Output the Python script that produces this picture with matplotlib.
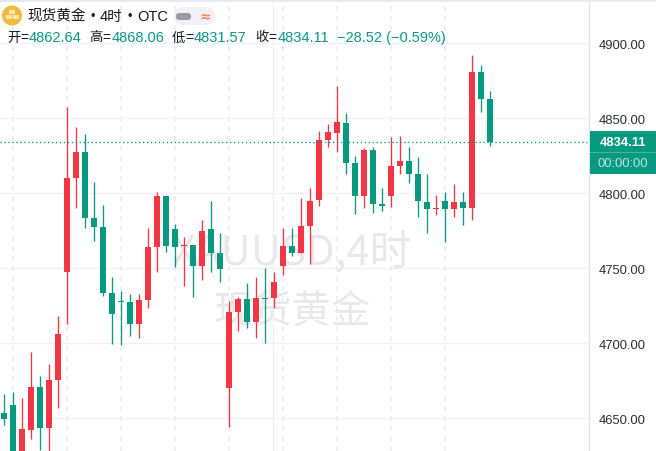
import matplotlib
matplotlib.use("Agg")
import matplotlib.pyplot as plt
from matplotlib.patches import Circle, FancyBboxPatch, Rectangle
from matplotlib.transforms import ScaledTranslation

opens = [4653.3, 4658.6, 4621.3, 4642.0, 4670.6, 4643.3, 4675.3, 4747.3, 4810.0, 4827.3, 4783.3,
         4777.3, 4733.3, 4728.0, 4727.3, 4712.6, 4728.6, 4764.0, 4798.0, 4776.0, 4764.6,
         4765.3, 4751.3, 4776.0, 4760.0, 4670.0, 4720.6, 4729.3, 4714.0, 4730.0, 4730.0,
         4751.3, 4764.6, 4760.0, 4778.0, 4795.3, 4835.3, 4840.0, 4846.6, 4820.0, 4798.0,
         4828.6, 4792.6, 4798.0, 4818.0, 4821.3, 4812.6, 4794.0, 4789.3, 4794.6, 4789.3,
         4794.0, 4790.0, 4880.6, 4862.64]
highs = [4666.0, 4667.3, 4663.3, 4694.0, 4678.0, 4686.0, 4718.0, 4857.3, 4844.0, 4839.3, 4807.3,
         4792.0, 4744.0, 4734.6, 4732.6, 4732.6, 4776.6, 4800.6, 4798.0, 4779.3, 4770.6,
         4765.3, 4782.0, 4794.6, 4773.3, 4728.0, 4730.6, 4740.0, 4744.0, 4750.0, 4747.3,
         4776.6, 4776.6, 4796.6, 4803.3, 4841.3, 4846.0, 4871.3, 4853.3, 4824.6, 4830.0,
         4830.6, 4803.3, 4837.3, 4838.0, 4830.6, 4824.0, 4812.6, 4798.6, 4800.6, 4806.0,
         4800.6, 4892.0, 4885.3, 4868.06]
lows = [4645.3, 4619.3, 4616.0, 4636.0, 4628.6, 4624.0, 4656.6, 4712.6, 4790.0, 4776.6, 4768.0,
        4731.3, 4699.3, 4698.6, 4704.6, 4703.3, 4723.3, 4747.3, 4760.6, 4750.6, 4738.0,
        4730.6, 4742.0, 4747.3, 4740.6, 4644.0, 4708.0, 4710.0, 4703.3, 4700.0, 4723.3,
        4745.3, 4758.0, 4760.0, 4752.6, 4791.3, 4830.6, 4827.3, 4812.6, 4786.0, 4790.0,
        4786.6, 4788.0, 4790.6, 4812.6, 4806.6, 4784.0, 4773.3, 4785.3, 4767.3, 4784.0,
        4778.6, 4782.0, 4854.0, 4831.57]
closes = [4649.3, 4624.0, 4642.6, 4670.6, 4643.3, 4675.3, 4706.0, 4810.0, 4827.3, 4783.3, 4777.3,
          4733.3, 4719.3, 4727.3, 4712.6, 4728.6, 4764.0, 4798.0, 4764.6, 4764.0, 4765.3,
          4751.3, 4774.6, 4760.0, 4749.3, 4720.6, 4729.3, 4714.0, 4730.0, 4729.3, 4740.6,
          4764.6, 4760.0, 4778.0, 4794.6, 4835.3, 4840.6, 4847.3, 4820.0, 4798.0, 4828.6,
          4792.6, 4791.3, 4818.0, 4821.3, 4812.6, 4794.6, 4789.3, 4790.0, 4789.3, 4794.0,
          4790.0, 4880.6, 4862.64, 4834.11]
price_ticks = [4650, 4700, 4750, 4800, 4850, 4900]
session_marks = [1, 7, 13, 19, 25, 31, 37, 43, 49]

RED, GREEN = "#F23645", "#089981"
GRID = "#F1F1F6"
CJK = ["Noto Sans CJK SC", "Liberation Sans", "DejaVu Sans"]
LATIN = ["Liberation Sans", "Noto Sans CJK SC"]
plt.rcParams["font.family"] = CJK

W, H = 656, 452
fig = plt.figure(figsize=(W / 100, H / 100), dpi=100, facecolor="white")
ax = fig.add_axes([0, 0, 589 / W, 1])
ax.set_xlim(-4 / 9, 65)
ax.set_ylim(4628.0, 4929.33)
for s in ("top", "left", "bottom"):
    ax.spines[s].set_visible(False)
ax.spines["right"].set_color("#E0E3EB")
ax.spines["right"].set_linewidth(0.9)
ax.yaxis.tick_right()
ax.set_yticks(price_ticks)
ax.set_yticklabels([f"{p:.2f}" for p in price_ticks], fontsize=9.4, color="#2A2E39", family=LATIN)
ax.tick_params(axis="y", length=0, pad=7)
ax.set_xticks([])
shift = ScaledTranslation(0, -1 / 100, fig.dpi_scale_trans)
for lab in ax.get_yticklabels():
    lab.set_transform(lab.get_transform() + shift)

for p in price_ticks:
    ax.axhline(p, color=GRID, lw=1, zorder=0)
ax.axvline(29.89, color=GRID, lw=1, zorder=0)
for m in session_marks:
    ax.vlines(m, 4628.0, 4926.5, color="#EEEEF5", lw=1.44, linestyle=(0, (2.5, 2.5)), zorder=0)

ax.text(31.94, 4761.5, "XAUUSD,4时", fontsize=30.2, color="#E8E8EC", ha="center", va="center", zorder=1)
ax.text(31.94, 4721.5, "现货黄金", fontsize=28.3, color="#E8E8EC", ha="center", va="center", zorder=1)

for i, (o, h, l, c) in enumerate(zip(opens, highs, lows, closes)):
    col = RED if c >= o else GREEN
    ax.vlines(i, l, h, color=col, lw=0.95, zorder=3)
    ax.bar(i, abs(c - o), bottom=min(o, c), width=6 / 9, color=col, lw=0, zorder=3)

ax.axhline(closes[-1], color=GREEN, lw=0.95, linestyle=(0, (1, 2)), zorder=4)

ov = fig.add_axes([0, 0, 1, 1], facecolor="none")
ov.set_xlim(0, W)
ov.set_ylim(H, 0)
ov.axis("off")

ov.add_patch(Rectangle((0, 0), W, 3, color="#E8E8F1", lw=0))
ov.add_patch(Circle((12, 16.5), 10, color="#F2B93B", lw=0))
ov.add_patch(Rectangle((9, 10.5), 6, 4, color="#FBE7B0", lw=0))
ov.add_patch(Rectangle((5.5, 16), 6, 4, color="#FBE7B0", lw=0))
ov.add_patch(Rectangle((12.5, 16), 6, 4, color="#FBE7B0", lw=0))

ov.text(27, 16.5, "现货黄金", fontsize=10.5, color="#131722", va="center", ha="left")
ov.text(92.5, 17, "•", fontsize=9, color="#131722", va="center", ha="center", family=LATIN)
ov.text(100, 16.5, "4时", fontsize=10.5, color="#131722", va="center", ha="left", family=LATIN)
ov.text(129.5, 17, "•", fontsize=9, color="#131722", va="center", ha="center", family=LATIN)
ov.text(137, 17, "OTC", fontsize=10.5, color="#131722", va="center", ha="left", family=LATIN)

ov.add_patch(FancyBboxPatch((174, 8), 41, 18, boxstyle="round,pad=0,rounding_size=9",
                            fc="#F1F1F9", ec="none", lw=0, mutation_aspect=1))
ov.add_patch(FancyBboxPatch((176, 14), 15, 7, boxstyle="round,pad=0,rounding_size=3",
                            fc="#9A9CA3", ec="none", lw=0))
ov.text(205, 16.5, "≈", fontsize=10, color="#F7825A", ha="center", va="center",
        family=["DejaVu Sans"], fontweight="bold")

row_y = 37.5
for lab_x, eq_x, val_x, lab, val in [(7, 20.5, 29, "开", opens[-1]), (89, 102.5, 112, "高", highs[-1]),
                                     (172, 185, 194, "低", lows[-1]), (255, 268, 277.5, "收", closes[-1])]:
    ov.text(lab_x, row_y, lab, fontsize=9.6, color="#131722", va="center", ha="left")
    ov.text(eq_x, row_y + 0.5, "=", fontsize=10, color="#131722", va="center", ha="left", family=LATIN)
    ov.text(val_x, row_y + 0.5, f"{val:.2f}", fontsize=10.5, color=GREEN, va="center", ha="left", family=LATIN)
ov.text(337, row_y + 0.5, "−28.52 (−0.59%)", fontsize=10.5, color=GREEN, va="center", ha="left", family=LATIN)

ov.add_patch(Rectangle((589.5, 132), 66.5, 43, color=GREEN, lw=0))
ov.plot([589.5, 656], [153, 153], color="#45B3A0", lw=0.8)
ov.text(622.5, 143.5, f"{closes[-1]:.2f}", fontsize=9.4, color="white", fontweight="bold",
        ha="center", va="center", family=LATIN)
ov.text(622.5, 164.5, "00:00:00", fontsize=9.4, color="#BFE5DE", ha="center", va="center", family=LATIN)

fig.savefig("out.png", dpi=100, facecolor="white")
